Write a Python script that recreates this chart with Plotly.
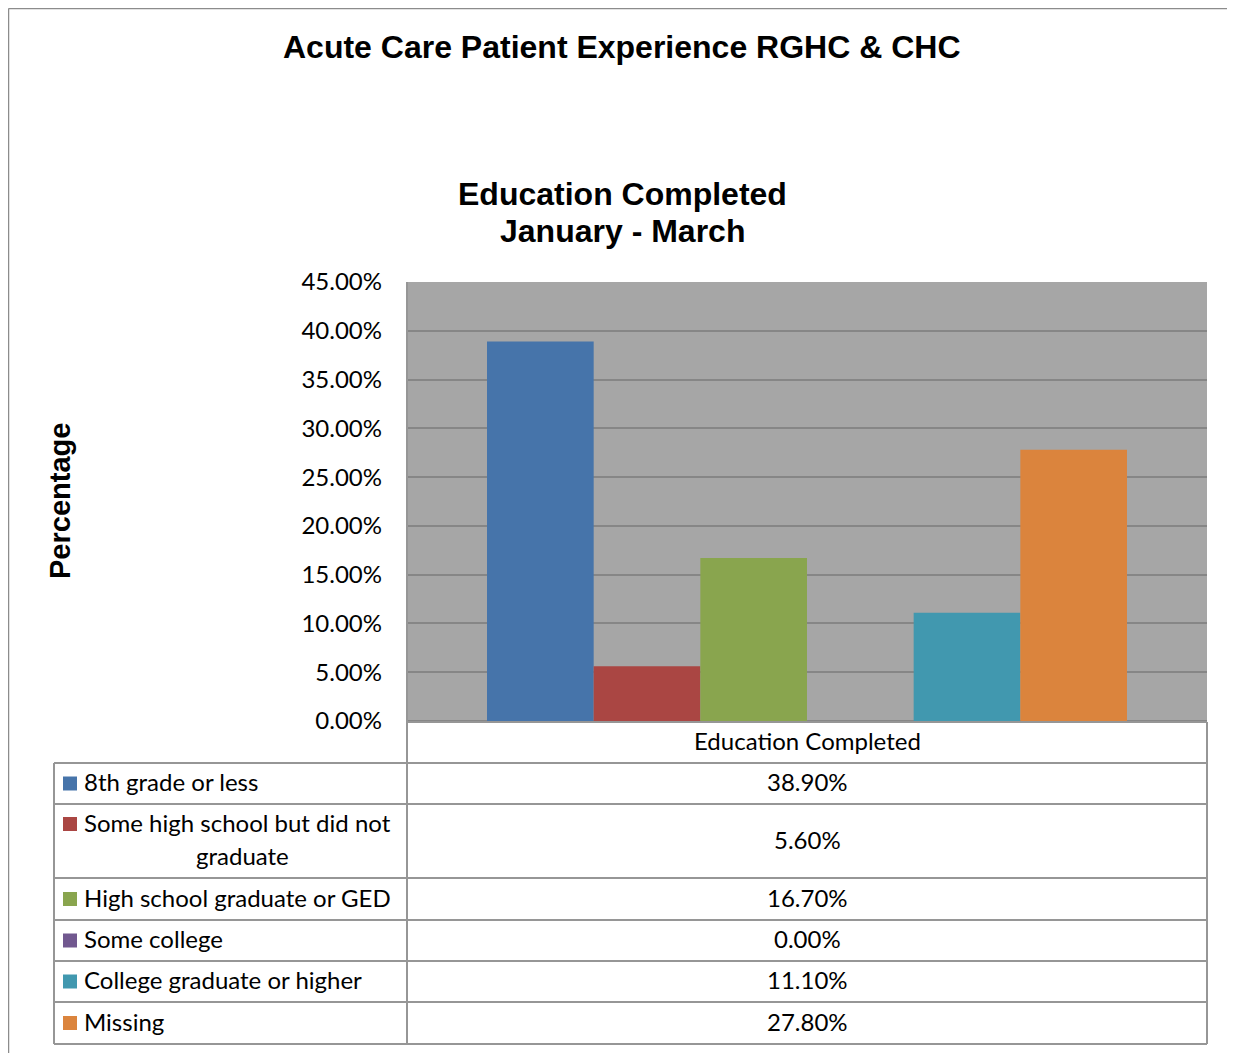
import plotly.graph_objects as go

categories = ["Education Completed"]
series_names = ["8th grade or less", "Some high school but did not graduate",
                "High school graduate or GED", "Some college",
                "College graduate or higher", "Missing"]
series_values = [0.389, 0.056, 0.167, 0.000, 0.111, 0.278]
series_colors = ["#4674AA", "#AA4643", "#89A54E", "#71588F", "#4198AF", "#DB843D"]
y_ticks = [0, 0.05, 0.10, 0.15, 0.20, 0.25, 0.30, 0.35, 0.40, 0.45]

OFF = 8  # page body margin offset
W, H = 1235 - OFF, 1053 - OFF
X0, X1, Y0, Y1 = 407 - OFF, 1207 - OFF, 282 - OFF, 721 - OFF  # plot area (figure px)


def px(p):
    # p given in reference page pixels
    return (p - OFF - X0) / (X1 - X0)


def py(p):
    return (Y1 - (p - OFF)) / (Y1 - Y0)


TITLE_FONT = "Liberation Sans, Arial, sans-serif"
BODY_FONT = "Lato, Carlito, Calibri, sans-serif"
BODY_SIZE = 24
LINE_C = "#969696"
DY = -2  # vertical nudge for table text

fig = go.Figure()
for name, val, col in zip(series_names, series_values, series_colors):
    fig.add_trace(go.Bar(x=categories, y=[val], name=name, marker_color=col,
                         marker_line_width=0, showlegend=False))

shapes = []


def line(xa, ya, xb, yb, color=LINE_C, width=2):
    shapes.append(dict(type="line", xref="paper", yref="paper",
                       x0=px(xa), y0=py(ya), x1=px(xb), y1=py(yb),
                       line=dict(color=color, width=width)))


# outer chart border
line(8.5, 8.5, 1235, 8.5, color="#8C8C8C", width=1.5)
line(8.5, 8.5, 8.5, 1053, color="#8C8C8C", width=1.5)

# table geometry
row_edges = [763, 804, 878, 920, 961, 1002, 1044]
TL, TM, TR = 54, 407, 1207
line(TM, 282, TM, 1044)
line(TR, 722, TR, 1044)
line(TL, 763, TL, 1044)
line(TM, 722, TR, 722)
for r in row_edges:
    line(TL, r, TR, r)

annotations = []


def text(t, x, y, size=BODY_SIZE, family=BODY_FONT, xanchor="center", **kw):
    annotations.append(dict(text=t, x=px(x), y=py(y), xref="paper", yref="paper",
                            showarrow=False, xanchor=xanchor, yanchor="middle",
                            font=dict(family=family, size=size, color="black"), **kw))


text(categories[0], (TM + TR) / 2, 742 + DY)

for i, (name, val, col) in enumerate(zip(series_names, series_values, series_colors)):
    top, bot = row_edges[i], row_edges[i + 1]
    mid = (top + bot) / 2
    if i == 1:
        sq_mid = 824
        words = name.split(" ")
        text(" ".join(words[:-1]), 82, 824 + DY, xanchor="left")
        text(words[-1], 242, 857 + DY)
    else:
        sq_mid = mid
        text(name, 82, mid + DY, xanchor="left")
    shapes.append(dict(type="rect", xref="paper", yref="paper",
                       x0=px(63), x1=px(77), y0=py(sq_mid - 7), y1=py(sq_mid + 7),
                       fillcolor=col, line=dict(width=0)))
    text(f"{val * 100:.2f}%", (TM + TR) / 2, mid + DY)

# titles
text("<b>Acute Care Patient Experience RGHC &amp; CHC</b>", 622, 47, size=32, family=TITLE_FONT)
text("<b>Education Completed</b>", 622, 194, size=32, family=TITLE_FONT)
text("<b>January - March</b>", 622, 231, size=32, family=TITLE_FONT)
text("<b>Percentage</b>", 60, 501, size=29, family=TITLE_FONT, textangle=-90)

fig.update_layout(
    width=W, height=H, autosize=False,
    margin=dict(l=X0, r=W - X1, t=Y0, b=H - Y1, pad=0),
    paper_bgcolor="white", plot_bgcolor="#A6A6A6",
    barmode="group", bargap=0.2, bargroupgap=0,
    shapes=shapes, annotations=annotations,
    xaxis=dict(showticklabels=False, showgrid=False, zeroline=False, showline=False,
               fixedrange=True),
    yaxis=dict(range=[0, 0.45], tickvals=y_ticks, tickformat=".2%",
               showgrid=True, gridcolor="#868686", gridwidth=2,
               zeroline=True, zerolinecolor="#868686", zerolinewidth=2,
               showline=False, ticks="", ticklabelstandoff=24,
               tickfont=dict(family=BODY_FONT, size=BODY_SIZE, color="black"),
               fixedrange=True),
)

fig.write_html("out.html")
